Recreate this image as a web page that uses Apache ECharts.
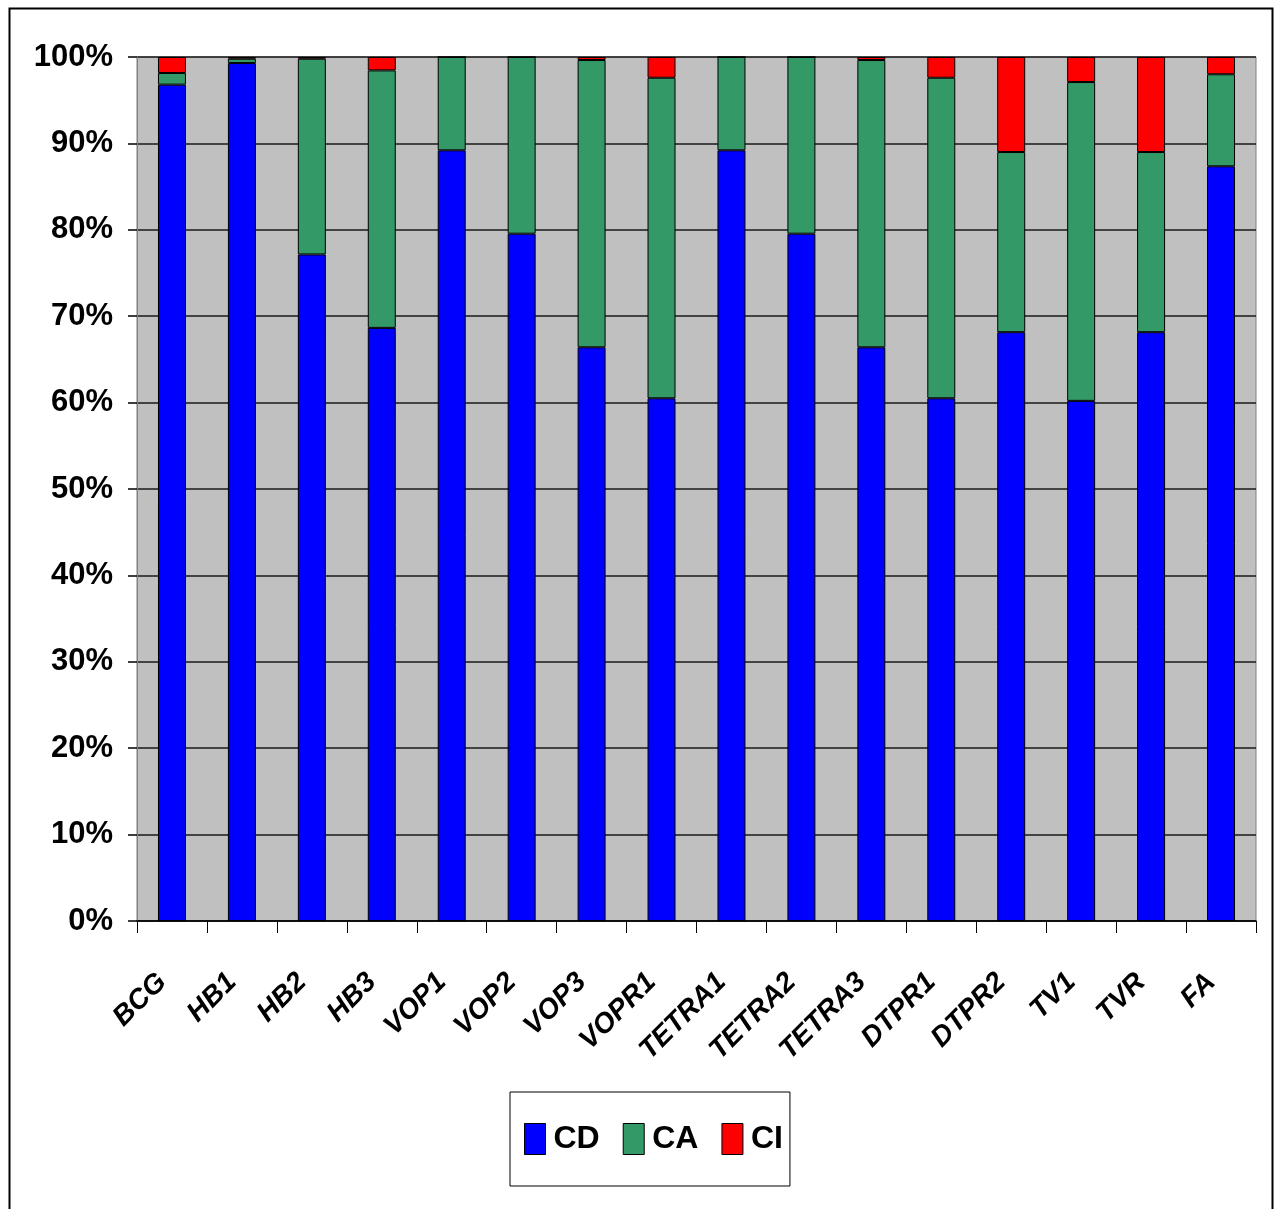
<!DOCTYPE html>
<html>
<head>
<meta charset="utf-8">
<script src="https://cdn.jsdelivr.net/npm/echarts@6/dist/echarts.min.js"></script>
<style>
html,body{margin:0;padding:0;background:#fff;}
#chart{width:1275px;height:1209px;}
</style>
</head>
<body>
<div id="chart"></div>
<script>
var categories = ['BCG','HB1','HB2','HB3','VOP1','VOP2','VOP3','VOPR1','TETRA1','TETRA2','TETRA3','DTPR1','DTPR2','TV1','TVR','FA'];
var cdValues = [96.8, 99.3, 77.15, 68.65, 89.2, 79.55, 66.4, 60.5, 89.2, 79.55, 66.4, 60.5, 68.15, 60.2, 68.15, 87.35];
var caValues = [1.35, 0.5, 22.65, 29.8, 10.8, 20.45, 33.25, 37.1, 10.8, 20.45, 33.25, 37.1, 20.85, 36.9, 20.85, 10.65];
var ciValues = [1.85, 0.2, 0.2, 1.55, 0, 0, 0.35, 2.4, 0, 0, 0.35, 2.4, 11.0, 2.9, 11.0, 2.0];
var yTicks = [0,10,20,30,40,50,60,70,80,90,100];

var sans = "'Liberation Sans',Arial,sans-serif";
var chart = echarts.init(document.getElementById('chart'), null, {renderer:'canvas'});

function barSeries(name, data, color){
  return {
    name: name, type: 'bar', stack: 'total', data: data,
    barCategoryGap: '60%',
    itemStyle: {color: color, borderColor: '#000', borderWidth: 1},
    emphasis: {disabled: true}
  };
}

chart.setOption({
  animation: false,
  backgroundColor: '#fff',
  graphic: [{
    type: 'rect', left: 7, top: 6,
    shape: {width: 1263, height: 1230},
    style: {fill: 'none', stroke: '#000', lineWidth: 2},
    silent: true
  }],
  grid: {
    left: 137, right: 19, top: 57, bottom: 288,
    show: true, backgroundColor: '#c0c0c0', borderColor: '#808080', borderWidth: 1
  },
  legend: {
    left: 510, top: 1092,
    orient: 'horizontal',
    padding: [31, 7, 31, 14],
    itemGap: 23,
    itemWidth: 21, itemHeight: 31,
    icon: 'rect',
    backgroundColor: '#fff',
    borderColor: '#000', borderWidth: 1,
    textStyle: {fontFamily: sans, fontWeight: 'bold', fontSize: 32, color: '#000', padding: [0,0,0,3]},
    itemStyle: {borderColor: '#000', borderWidth: 1},
    data: ['CD','CA','CI']
  },
  xAxis: {
    type: 'category',
    data: categories,
    boundaryGap: true,
    axisLine: {show: true, lineStyle: {color: '#000', width: 1.5}},
    axisTick: {show: true, length: 12, alignWithLabel: false, lineStyle: {color: '#000', width: 1}},
    axisLabel: {
      rotate: 45, margin: 47, interval: 0,
      padding: [0, 14, 0, 0],
      fontFamily: sans, fontWeight: 'bold', fontStyle: 'italic',
      fontSize: 28, color: '#000'
    },
    splitLine: {show: false}
  },
  yAxis: {
    type: 'value',
    min: yTicks[0], max: yTicks[yTicks.length-1], interval: 10,
    axisLine: {show: true, lineStyle: {color: '#808080', width: 1}},
    axisTick: {show: true, length: 9, lineStyle: {color: '#000', width: 1.5}},
    axisLabel: {
      formatter: '{value}%', margin: 24,
      fontFamily: sans, fontWeight: 'bold', fontSize: 31, color: '#000'
    },
    splitLine: {show: true, lineStyle: {color: '#1a1a1a', width: 1.5}}
  },
  series: [
    barSeries('CD', cdValues, '#0000ff'),
    barSeries('CA', caValues, '#339966'),
    barSeries('CI', ciValues, '#ff0000')
  ]
});
</script>
</body>
</html>
